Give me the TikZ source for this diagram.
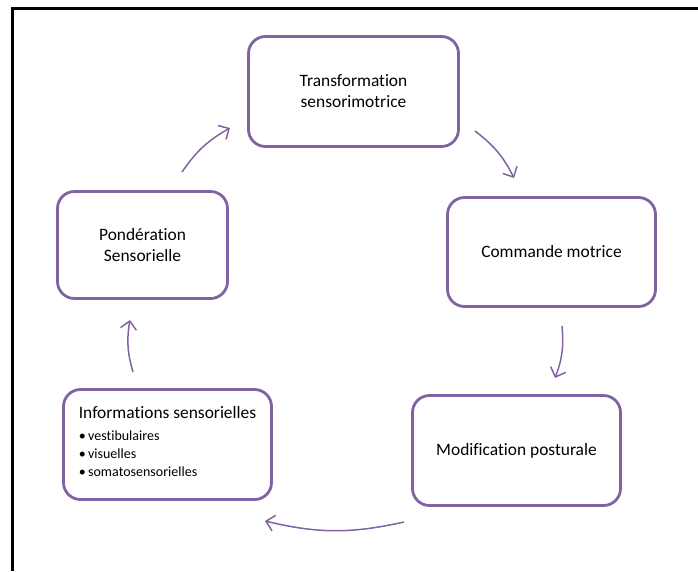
\documentclass[tikz,border=0pt]{standalone}
\usepackage{fontspec}
\setmainfont{Carlito}[Ligatures=NoCommon]
\usepackage{xcolor}
\usetikzlibrary{arrows.meta, positioning}
\definecolor{boxpurple}{RGB}{128,100,162}
\newcommand\sensitem[1]{\textbullet\,#1}

\begin{document}
\begin{tikzpicture}[
x=1pt, y=-1pt,
box/.style = {draw=boxpurple, line width=2.8pt, rounded corners=17pt,
              outer sep=0pt, align=center,
              font=\fontsize{17.4}{21}\selectfont},
arr/.style = {draw=boxpurple, line width=1.5pt, bend left=13,
              -{Straight Barb[length=8pt,width=16pt]}},
                        ]
\useasboundingbox (0,0) rectangle (698,571);
% frame
\draw[line width=3pt] (698,8) -- (12.5,8) -- (12.5,571);
% boxes
\node (trans) [box, minimum width=210pt, minimum height=110pt] at (353.5,91.5)
      {Transformation\\sensorimotrice};
\node (cmd)   [box, minimum width=208pt, minimum height=109pt] at (551.5,252)
      {Commande motrice};
\node (modif) [box, minimum width=208pt, minimum height=110pt] at (516.5,450.5)
      {Modification posturale};
\node (info)  [box, minimum width=208pt, minimum height=110pt, align=left] at (167.5,444.5)
      {Informations sensorielles\\[1pt]
       {\fontsize{14}{18}\selectfont\begin{tabular}[t]{@{}l@{}}
        \sensitem{vestibulaires}\\\sensitem{visuelles}\\\sensitem{somatosensorielles}
       \end{tabular}}};
\node (pond)  [box, minimum width=170pt, minimum height=107pt] at (142.5,245)
      {Pondération\\Sensorielle};
% arrows
\draw[arr] ([xshift=39.5pt,yshift=19.5pt]pond.north)  to ([xshift=-18.5pt,yshift=-36.5pt]trans.west);
\draw[arr] ([xshift=16.5pt,yshift=-39.5pt]trans.east) to ([xshift=-37.5pt,yshift=19.5pt]cmd.north);
\draw[arr] ([xshift=10.5pt,yshift=-19.5pt]cmd.south)  to ([xshift=38.5pt,yshift=17.5pt]modif.north);
\draw[arr] ([xshift=-112.5pt,yshift=-16.5pt]modif.south) to ([xshift=97.5pt,yshift=-21.5pt]info.south);
\draw[arr] ([xshift=-34.5pt,yshift=17.5pt]info.north) to ([xshift=-12.5pt,yshift=-21.5pt]pond.south);
\end{tikzpicture}
\end{document}
